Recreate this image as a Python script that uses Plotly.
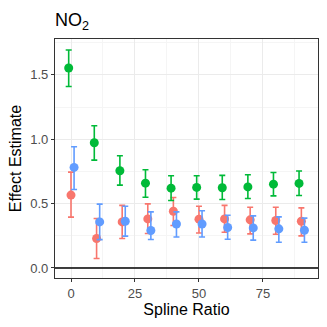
import plotly.graph_objects as go

# ── data ──────────────────────────────────────────────────────────────────────
spline_ratio = [0, 10, 20, 30, 40, 50, 60, 70, 80, 90]

red_est = [0.566, 0.229, 0.358, 0.381, 0.441, 0.379, 0.381, 0.374, 0.369, 0.363]
red_lo  = [0.395, 0.073, 0.229, 0.268, 0.330, 0.272, 0.278, 0.265, 0.262, 0.249]
red_hi  = [0.745, 0.384, 0.486, 0.498, 0.548, 0.480, 0.486, 0.472, 0.472, 0.467]

green_est = [1.554, 0.973, 0.755, 0.659, 0.620, 0.626, 0.623, 0.630, 0.651, 0.657]
green_lo  = [1.410, 0.838, 0.644, 0.550, 0.524, 0.535, 0.532, 0.540, 0.560, 0.563]
green_hi  = [1.694, 1.105, 0.872, 0.763, 0.716, 0.716, 0.719, 0.724, 0.742, 0.753]

blue_est = [0.781, 0.358, 0.363, 0.291, 0.342, 0.342, 0.314, 0.311, 0.304, 0.293]
blue_lo  = [0.610, 0.220, 0.247, 0.221, 0.241, 0.241, 0.223, 0.216, 0.200, 0.200]
blue_hi  = [0.942, 0.496, 0.480, 0.436, 0.436, 0.444, 0.410, 0.405, 0.397, 0.387]

x_ticks = [0, 25, 50, 75]
y_ticks = [0.0, 0.5, 1.0, 1.5]

# ── style ─────────────────────────────────────────────────────────────────────
FONT = "Liberation Sans, Arial, sans-serif"
GRID = "#EBEBEB"
MINOR = "#F5F5F5"
BORDER = "#333333"
TICKTXT = "#4D4D4D"

series = [
    ("red",   "#F8766D", red_est,   red_lo,   red_hi,    0.0),
    ("green", "#00BA38", green_est, green_lo, green_hi, -0.9),
    ("blue",  "#619CFF", blue_est,  blue_lo,  blue_hi,   1.2),
]

fig = go.Figure()
for name, color, est, lo, hi, shift in series:
    fig.add_trace(go.Scatter(
        x=[x + shift for x in spline_ratio], y=est, mode="markers", name=name,
        marker=dict(color=color, size=9),
        error_y=dict(type="data", symmetric=False,
                     array=[h - e for h, e in zip(hi, est)],
                     arrayminus=[e - l for e, l in zip(est, lo)],
                     color=color, thickness=1.6, width=3),
        showlegend=False,
    ))

fig.add_hline(y=0, line=dict(color="black", width=1.6))

axis_common = dict(
    showline=True, mirror=True, linecolor=BORDER, linewidth=1.2,
    showgrid=True, gridcolor=GRID, gridwidth=1, zeroline=False,
    ticks="outside", ticklen=3, tickcolor=BORDER, tickwidth=1,
    tickfont=dict(family=FONT, size=13, color=TICKTXT),
    title_font=dict(family=FONT, size=16, color="black"),
)

fig.update_layout(
    width=327, height=327,
    paper_bgcolor="white", plot_bgcolor="white",
    margin=dict(l=55, r=9, t=39, b=49),
    font=dict(family=FONT, color="black"),
    title=dict(text="NO<sub>2</sub>", x=0, xref="paper", xanchor="left",
               y=1 - 20 / 327, yanchor="middle",
               font=dict(family=FONT, size=18, color="black")),
    xaxis=dict(axis_common, range=[-6.25, 96.5], tickvals=x_ticks,
               title=dict(text="Spline Ratio", standoff=4),
               minor=dict(dtick=12.5, tick0=12.5, showgrid=True, gridcolor=MINOR, ticks="")),
    yaxis=dict(axis_common, range=[-0.078, 1.779], tickvals=y_ticks,
               tickformat=".1f",
               title=dict(text="Effect Estimate", standoff=4),
               minor=dict(dtick=0.25, tick0=0.25, showgrid=True, gridcolor=MINOR, ticks="")),
)

# drop the page's default body margin so the figure sits at the window origin
fig.write_html("out.html", config={"displayModeBar": False},
               post_script="document.body.style.margin='0';")
